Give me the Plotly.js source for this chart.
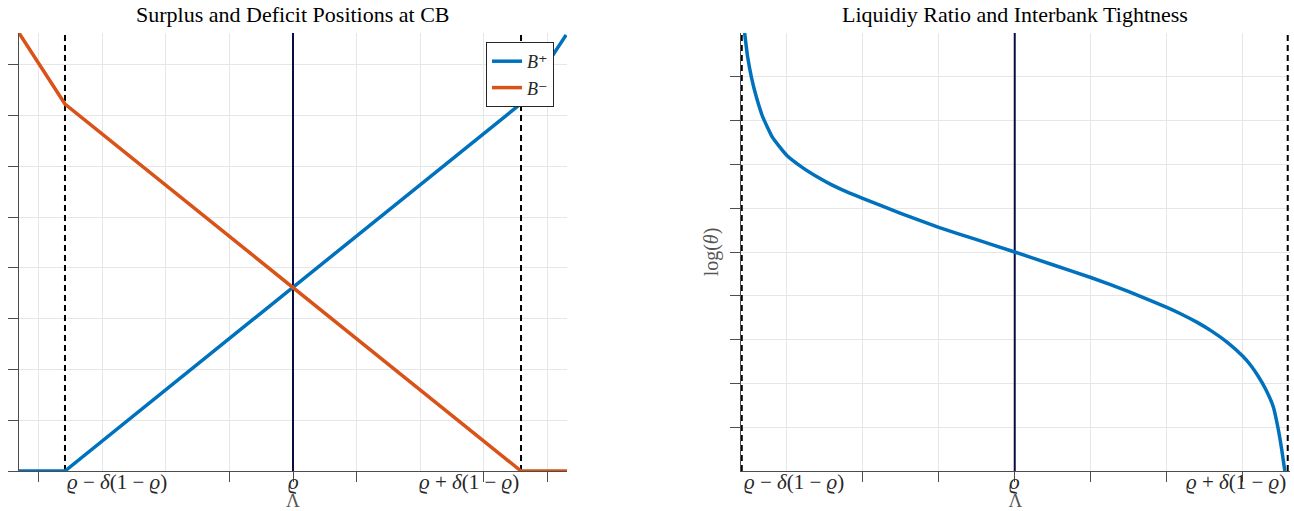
<!DOCTYPE html>
<html>
<head>
<meta charset="utf-8">
<script src="https://cdn.plot.ly/plotly-3.0.1.min.js"></script>
<style>html,body{margin:0;padding:0;background:#fff;}#chart{width:1294px;height:511px;}</style>
</head>
<body>
<div id="chart"></div>
<script>
// ---- values ----
const rho = 0.6;                  // ϱ
const bandLo = 0.4205;            // ϱ − δ(1 − ϱ)
const bandHi = 0.7795;            // ϱ + δ(1 − ϱ)

// Left panel: surplus / deficit positions at CB
const lamLeft   = [0.3843, 0.4205, 0.7795, 0.8150];
const bPlus     = [0, 0, 7.24, 8.59];
const lamMinus  = [0.3843, 0.4205, 0.7795, 0.8157];
const bMinus    = [8.63, 7.23, 0, 0];

// Right panel: liquidity ratio and interbank tightness (log θ against Λ)
const lamTheta = [0.4224, 0.4243, 0.4270, 0.4303, 0.4342, 0.4408, 0.4500, 0.4600, 0.4700, 0.4800,
                  0.4900, 0.5000, 0.5250, 0.5500, 0.5750, 0.6000, 0.6250, 0.6500, 0.6750, 0.7000,
                  0.7100, 0.7200, 0.7300, 0.7400, 0.7500, 0.7550, 0.7600, 0.7650, 0.7700, 0.7730,
                  0.7755, 0.7776];
const logTheta = [4.98, 4.45, 3.95, 3.50, 3.08, 2.60, 2.20, 1.93, 1.71, 1.52,
                  1.36, 1.22, 0.88, 0.56, 0.28, 0, -0.29, -0.58, -0.90, -1.26,
                  -1.42, -1.60, -1.81, -2.06, -2.37, -2.57, -2.82, -3.12, -3.52, -3.98,
                  -4.48, -4.98];

const leftRange  = [0.3843, 0.8157];
const leftY      = [0, 8.63];
const rightRange = [0.4200, 0.7810];
const rightY     = [-4.98, 4.98];

const leftTicks  = [0.40, 0.55, 0.60, 0.65, 0.75, 0.80];
const rightTicks = [0.50, 0.55, 0.60, 0.65, 0.70, 0.75];
const centerLabel = '<i>ϱ</i>';
const loLabel = '<i>ϱ</i> − <i>δ</i>(1 − <i>ϱ</i>)';
const hiLabel = '<i>ϱ</i> + <i>δ</i>(1 − <i>ϱ</i>)';
const seriesNames = ['<i>B</i>⁺', '<i>B</i>⁻'];

// ---- styling ----
const BLUE = '#0072BD', ORANGE = '#D95319', NAVY = '#0b0b45';
const SERIF = '"Liberation Serif", "DejaVu Serif", serif';
const GRID = '#e6e6e6';
const LABEL_SIZE = 21;

function vline(x, y, xa, ya, color, dash, width) {
  return {x: [x, x], y: y, xaxis: xa, yaxis: ya, mode: 'lines', showlegend: false,
          hoverinfo: 'skip', line: {color: color, dash: dash, width: width}};
}

const traces = [
  vline(rho, leftY, 'x', 'y', NAVY, 'solid', 2),
  vline(bandLo, leftY, 'x', 'y', '#000', '6px,4px', 2),
  vline(bandHi, leftY, 'x', 'y', '#000', '6px,4px', 2),
  {x: lamLeft, y: bPlus, xaxis: 'x', yaxis: 'y', mode: 'lines', name: seriesNames[0],
   line: {color: BLUE, width: 3.5}},
  {x: lamMinus, y: bMinus, xaxis: 'x', yaxis: 'y', mode: 'lines', name: seriesNames[1],
   line: {color: ORANGE, width: 3.5}},
  vline(rho, rightY, 'x2', 'y2', NAVY, 'solid', 2),
  vline(bandLo, rightY, 'x2', 'y2', '#000', '6px,4px', 2),
  vline(bandHi, rightY, 'x2', 'y2', '#000', '6px,4px', 2),
  {x: lamTheta, y: logTheta, xaxis: 'x2', yaxis: 'y2', mode: 'lines', showlegend: false,
   line: {color: BLUE, width: 3.5, shape: 'spline', smoothing: 0.4}}
];

function xax(domain, range, tickvals) {
  return {
    domain: domain, range: range, fixedrange: true,
    tickmode: 'array', tickvals: tickvals, ticktext: tickvals.map(() => ''),
    ticks: 'outside', ticklen: 10, tickcolor: '#4d4d4d', tickwidth: 1,
    showline: true, linecolor: '#4d4d4d', linewidth: 1,
    showgrid: false, zeroline: false,
    minor: {tick0: rho, dtick: 0.05, showgrid: true, gridcolor: GRID, gridwidth: 1, ticks: ''},
    title: {text: 'Λ', font: {family: SERIF, size: 19, color: '#555'}, standoff: 14}
  };
}
function yax(range, dtick, anchor) {
  return {
    domain: [0, 1], range: range, anchor: anchor, fixedrange: true,
    tick0: 0, dtick: dtick, ticks: 'outside', ticklen: 10, tickcolor: '#4d4d4d', tickwidth: 1,
    showticklabels: false, showline: true, linecolor: '#4d4d4d', linewidth: 1,
    showgrid: true, gridcolor: GRID, gridwidth: 1, zeroline: false
  };
}

function belowLabel(text, xref, x, anchor) {
  return {text: text, xref: xref, yref: 'paper', x: x, y: 0, yshift: 3, xanchor: anchor, yanchor: 'top',
          showarrow: false, font: {family: SERIF, size: LABEL_SIZE, color: '#262626'}};
}

const layout = {
  width: 1294, height: 511,
  margin: {l: 0, r: 0, t: 33, b: 40},
  paper_bgcolor: '#fff', plot_bgcolor: '#fff',
  font: {family: SERIF, color: '#262626'},
  showlegend: true,
  legend: {x: 486/1294, y: (471-42)/438, xanchor: 'left', yanchor: 'top', xref: 'paper', yref: 'paper',
           bgcolor: '#fff', bordercolor: '#262626', borderwidth: 1,
           font: {family: SERIF, size: 18, color: '#262626'}, itemwidth: 30, tracegroupgap: 0},
  xaxis: xax([19/1294, 567/1294], leftRange, leftTicks),
  yaxis: yax(leftY, 1, 'x'),
  xaxis2: Object.assign(xax([741/1294, 1290/1294], rightRange, rightTicks), {anchor: 'y2'}),
  yaxis2: Object.assign(yax(rightY, 1, 'x2'), {
    title: {text: 'log(<i>θ</i>)', font: {family: SERIF, size: 20, color: '#555'}, standoff: 6}
  }),
  annotations: [
    {text: 'Surplus and Deficit Positions at CB', xref: 'x', yref: 'paper', x: rho, y: 1, yshift: 4,
     xanchor: 'center', yanchor: 'bottom', showarrow: false, font: {family: SERIF, size: 22, color: '#000'}},
    {text: 'Liquidiy Ratio and Interbank Tightness', xref: 'x2', yref: 'paper', x: rho, y: 1, yshift: 4,
     xanchor: 'center', yanchor: 'bottom', showarrow: false, font: {family: SERIF, size: 22, color: '#000'}},
    belowLabel(loLabel, 'x', bandLo, 'left'),
    belowLabel(centerLabel, 'x', rho, 'center'),
    belowLabel(hiLabel, 'x', bandHi, 'right'),
    belowLabel(loLabel, 'x2', bandLo, 'left'),
    belowLabel(centerLabel, 'x2', rho, 'center'),
    belowLabel(hiLabel, 'x2', bandHi, 'right')
  ]
};

Plotly.newPlot('chart', traces, layout, {displayModeBar: false, staticPlot: true});
</script>
</body>
</html>
